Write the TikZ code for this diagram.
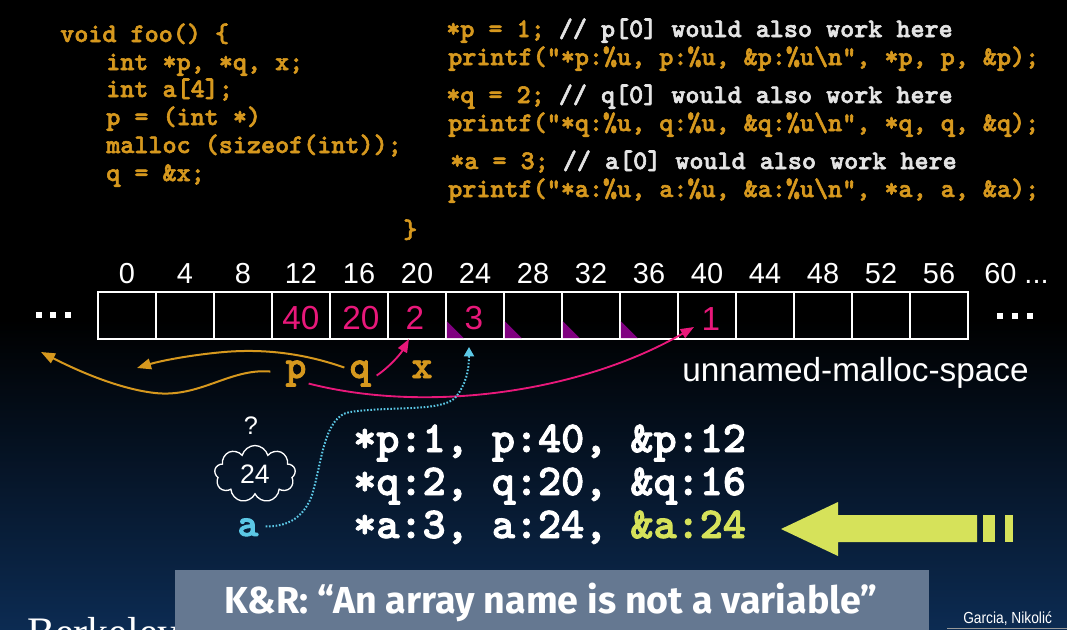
\documentclass[tikz,border=0pt]{standalone}
\usepackage{fontspec}
\setmainfont{Liberation Sans}
\newfontfamily\firaf{Fira Sans}
\newfontfamily\seriff{Liberation Serif}
\newfontfamily\courf{lmmonolt10-bold.otf}[FakeBold=2.2]
\usetikzlibrary{arrows.meta,shapes.symbols,calc}
\definecolor{gold}{RGB}{214,152,30}
\definecolor{comm}{RGB}{228,228,228}
\definecolor{pinkc}{RGB}{232,24,122}
\definecolor{purp}{RGB}{128,0,128}
\definecolor{cyanc}{RGB}{92,200,230}
\definecolor{ygreen}{RGB}{214,226,90}
\definecolor{navyb}{RGB}{12,43,82}
\definecolor{boxgray}{RGB}{101,120,145}
\tikzset{
  code/.style={anchor=base west, inner sep=0pt, font=\courf\fontsize{20.1}{22}\selectfont, text=gold},
  lbl/.style={anchor=base, inner sep=0pt, font=\fontsize{21.7}{24}\selectfont, text=white},
  cell/.style={draw=white, line width=1.2pt, minimum width=58*0.75pt, minimum height=47*0.75pt, inner sep=0pt, outer sep=0pt},
  cellnum/.style={anchor=base, inner sep=0pt, font=\fontsize{25}{28}\selectfont, text=pinkc},
  var/.style={anchor=base, inner sep=0pt, font=\courf\fontsize{29.7}{32}\selectfont, text=gold},
  outl/.style={anchor=base west, inner sep=0pt, font=\courf\fontsize{33}{36}\selectfont, text=white},
  goldarr/.style={draw=gold, line width=1.5pt, -{Triangle[length=10.5pt,width=8pt]}},
  pinkarr/.style={draw=pinkc, line width=1.4pt, -{Triangle[length=10pt,width=7.5pt]}},
  cyanarr/.style={draw=cyanc, line width=1.5pt, dash pattern=on 1.2pt off 1.3pt, -{Triangle[length=7pt,width=7.5pt]}}
}
\begin{document}
\begin{tikzpicture}[x=0.75pt,y=-0.75pt]
\useasboundingbox (0,0) rectangle (1067,629);
\fill[black] (0,0) rectangle (1067,629);
\shade[top color=black, bottom color=navyb] (0,320) rectangle (1067,629);
\begin{scope}
\clip (0,0) rectangle (1067,629);
\node[anchor=base west, inner sep=0pt, font=\seriff\fontsize{31.5}{36}\selectfont, text=white] (berk) at (27,646) {Berkeley};
\end{scope}

% code, left
\node[code] (l1) at (60,42) {void foo() \{};
\node[code] (l2) at (106,70) {int *p, *q, x;};
\node[code] (l3) at (106,97) {int a[4];};
\node[code] (l4) at (106,125) {p = (int *)};
\node[code] (l5) at (106,153) {malloc (sizeof(int));};
\node[code] (l6) at (106,181) {q = \&x;};
\node[code] (l7) at (403,238) {\}};
% code, right
\node[code] (r1) at (446,37) {*p = 1; {\color{comm}// p[0] would also work here}};
\node[code] (r2) at (448,65) {printf("*p:\%u, p:\%u, \&p:\%u\textbackslash n", *p, p, \&p);};
\node[code] (r3) at (446,103) {*q = 2; {\color{comm}// q[0] would also work here}};
\node[code] (r4) at (448,131) {printf("*q:\%u, q:\%u, \&q:\%u\textbackslash n", *q, q, \&q);};
\node[code] (r5) at (450,169) {*a = 3; {\color{comm}// a[0] would also work here}};
\node[code] (r6) at (448,197) {printf("*a:\%u, a:\%u, \&a:\%u\textbackslash n", *a, a, \&a);};

% address labels
\foreach \i/\v in {0/0,1/4,2/8,3/12,4/16,5/20,6/24,7/28,8/32,9/36,10/40,11/44,12/48,13/52,14/56}
  \node[lbl] (n\i) at (127+58*\i,283) {\v};
\node[lbl, anchor=base west] (n15) at (984,283) {60 ...};

% cells
\foreach \i in {0,...,14}
  \node[cell] (c\i) at (127+58*\i,315.5) {};
\foreach \i in {6,7,8,9}
  \fill[purp] ([xshift=0.6pt,yshift=0.6pt]c\i.south west) -- ++(0,-17) -- ++(17,17) -- cycle;
\node[cellnum] (v3) at (301,329) {40};
\node[cellnum] (v4) at (361,329) {20};
\node[cellnum] (v5) at (415,329) {2};
\node[cellnum] (v6) at (474,329) {3};
\node[cellnum] (v10) at (711,330) {1};

% dots
\foreach \x in {38.5,53,68}
  \fill[white] (\x-3,312) rectangle (\x+3,318);
\foreach \x in {1000,1015,1030}
  \fill[white] (\x-3,313) rectangle (\x+3,319);

\node[anchor=base west, inner sep=0pt, font=\fontsize{25}{28}\selectfont, text=white] (unm) at (682,381) {unnamed-malloc-space};

% variables
\node[var] (p) at (296,378) {p};
\node[var] (q) at (360,378) {q};
\node[var] (x) at (422,378) {x};
\node[var, text=cyanc] (a) at (248,536) {a};

\coordinate (tipL) at (41,352);
\coordinate (tipQ) at (137,368);
\coordinate (tip2) at ($(c5.south)+(-8,0)$);
\coordinate (tip1) at ($(c10.south west)+(16,-12)$);
\coordinate (tipA) at ($(c6.south)+(-6,8)$);

\draw[goldarr] ($(p.west)+(-15,-2)$) .. controls (230,368) and (200,398) .. (155,393) .. controls (120,389) and (80,372) .. (tipL);
\draw[goldarr] ($(q.west)+(-5,-6)$) .. controls (300,352) and (260,349) .. (224,352) .. controls (190,355) and (160,361) .. (tipQ);
\draw[pinkarr] ($(q.east)+(6,2)$) .. controls (388,368) and (400,355) .. (tip2);
\draw[pinkarr] ($(p.east)+(2,10)$) .. controls (428,414) and (582,392) .. (tip1);
\draw[cyanarr] ($(a.east)+(7,-1)$) .. controls (290,527) and (305,515) .. (312,495) .. controls (322,462) and (324,416) .. (350,412) .. controls (390,406) and (440,412) .. (455,398) .. controls (466,385) and (469,370) .. (tipA);

% cloud
\node[anchor=base, inner sep=0pt, font=\fontsize{19}{22}\selectfont, text=white] (qm) at (251,434) {?};
\node[cloud, draw=white, line width=1pt, cloud puffs=9, aspect=1.45, minimum width=81*0.75pt, minimum height=57*0.75pt, inner sep=0pt, text=white, font=\fontsize{20}{22}\selectfont] (cl) at (255,474) {24};

% output
\node[outl] (o1) at (353,452) {*p:1, p:40, \&p:12};
\node[outl] (o2) at (353,495) {*q:2, q:20, \&q:16};
\node[outl] (o3) at (353,538) {*a:3, a:24, {\color{ygreen}\&a:24}};

% big arrow
\fill[ygreen] (781,529) -- (838,502) -- (838,515) -- (977,515) -- (977,542) -- (838,542) -- (838,556) -- cycle;
\fill[ygreen] (983,515) rectangle (995,542);
\fill[ygreen] (1005,515) rectangle (1013,542);

% bottom box
\fill[boxgray] (175,570) rectangle (929,640);
\node[anchor=base, inner sep=0pt, font=\firaf\bfseries\fontsize{28.2}{32}\selectfont, text=white] (kr) at (551,613) {K\&R: “An array name is not a variable”};
\node[anchor=base west, inner sep=0pt, font=\fontsize{12}{14}\selectfont, text=white] (gn) at (963,623) {\scalebox{0.86}[1]{Garcia, Nikolić}};
\draw[white!60!black, line width=0.75pt] (947,628.6) -- (1067,628.6);
\end{tikzpicture}
\end{document}
